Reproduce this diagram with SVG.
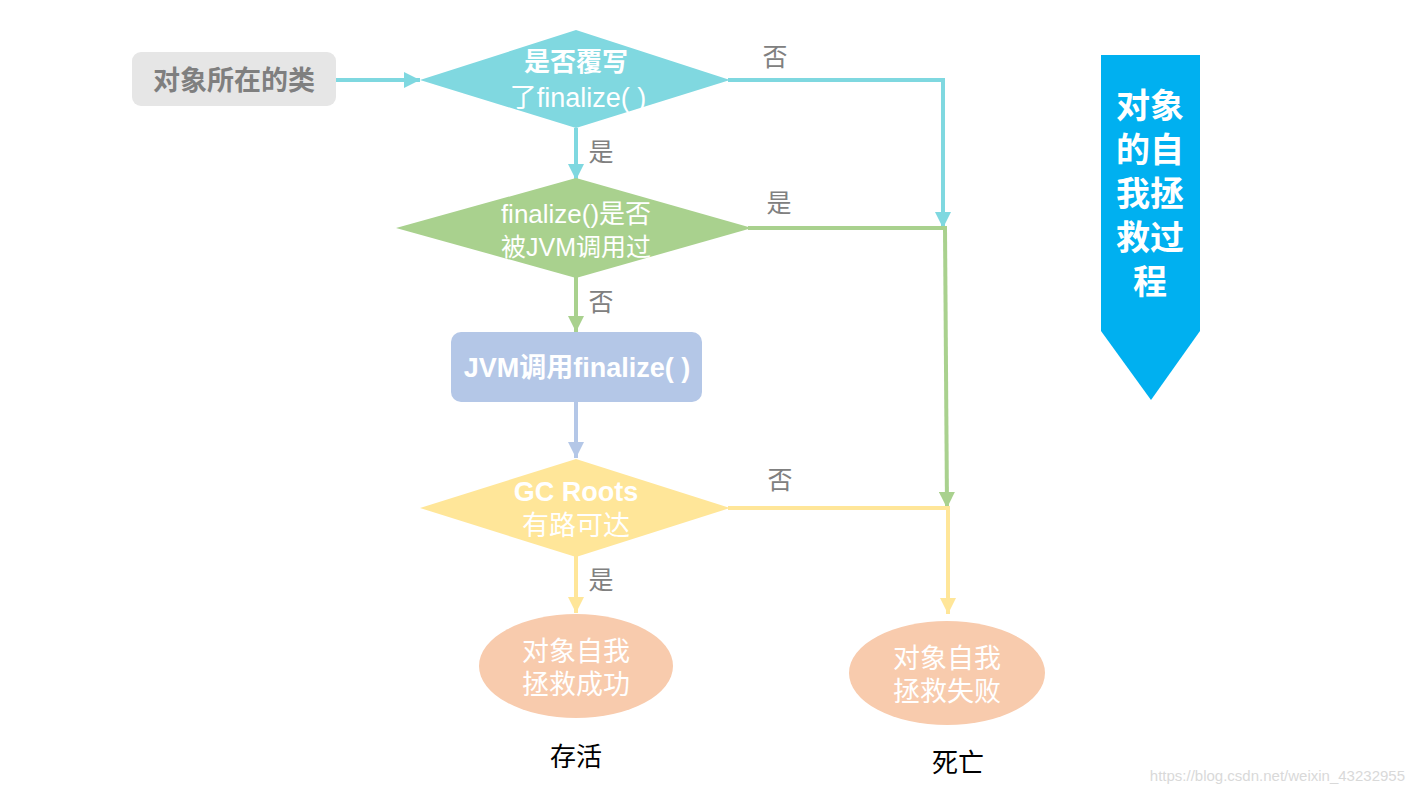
<svg xmlns="http://www.w3.org/2000/svg" width="1414" height="794" viewBox="0 0 1414 794">
<defs>
<style>
text{font-family:"Liberation Sans","Noto Sans CJK SC",sans-serif;text-anchor:middle}
.w{fill:#ffffff;font-size:27px}
.b{font-weight:bold}
.lbl{fill:#808080;font-size:25px}
.line{fill:none;stroke-width:4}
</style>
<marker id="mc" viewBox="0 0 10 10" refX="10" refY="5" markerWidth="4" markerHeight="4" orient="auto"><path d="M0,0L10,5L0,10z" fill="#7fd8e0"/></marker>
<marker id="mg" viewBox="0 0 10 10" refX="10" refY="5" markerWidth="4" markerHeight="4" orient="auto"><path d="M0,0L10,5L0,10z" fill="#a9d18e"/></marker>
<marker id="mb" viewBox="0 0 10 10" refX="10" refY="5" markerWidth="4" markerHeight="4" orient="auto"><path d="M0,0L10,5L0,10z" fill="#b4c7e7"/></marker>
<marker id="my" viewBox="0 0 10 10" refX="10" refY="5" markerWidth="4" markerHeight="4" orient="auto"><path d="M0,0L10,5L0,10z" fill="#ffe699"/></marker>
</defs>
<rect width="1414" height="794" fill="#ffffff"/>
<g id="connectors">
<path class="line" stroke="#7fd8e0" d="M336,80H420" marker-end="url(#mc)"/>
<path class="line" stroke="#7fd8e0" d="M576,128V180" marker-end="url(#mc)"/>
<path class="line" stroke="#7fd8e0" d="M728,80H943V228" marker-end="url(#mc)"/>
<path class="line" stroke="#a9d18e" d="M576,276V332" marker-end="url(#mg)"/>
<path class="line" stroke="#a9d18e" d="M748,228H947" />
<path class="line" stroke="#a9d18e" d="M945,228L947,508" marker-end="url(#mg)"/>
<path class="line" stroke="#b4c7e7" d="M576,402V458" marker-end="url(#mb)"/>
<path class="line" stroke="#ffe699" d="M576,556V613" marker-end="url(#my)"/>
<path class="line" stroke="#ffe699" d="M728,508H948V614" marker-end="url(#my)"/>
<text class="lbl" x="601" y="161">是</text>
<text class="lbl" x="601" y="311">否</text>
<text class="lbl" x="601" y="589">是</text>
<text class="lbl" x="775" y="66">否</text>
<text class="lbl" x="779" y="212">是</text>
<text class="lbl" x="780" y="489">否</text>
</g>
<g id="n-class">
<rect x="132" y="52" width="204" height="54" rx="9" fill="#e6e6e6"/>
<text x="234" y="90" fill="#7f7f7f" font-size="27" font-weight="bold">对象所在的类</text>
</g>
<g id="n-override">
<polygon points="420,80 576,30 730,80 576,128" fill="#80d8e0"/>
<text class="w b" x="576" y="71" style="font-size:26px">是否覆写</text>
<text class="w" x="578" y="107">了finalize( )</text>
</g>
<g id="n-called">
<polygon points="396,228 576,178 752,228 576,278" fill="#a9d18e"/>
<text class="w" x="576" y="223" style="font-size:26px">finalize()是否</text>
<text class="w" x="576" y="256" style="font-size:25px">被JVM调用过</text>
</g>
<g id="n-jvm">
<rect x="451" y="332" width="251" height="70" rx="10" fill="#b4c7e7"/>
<text class="w b" x="577" y="377">JVM调用finalize( )</text>
</g>
<g id="n-gc">
<polygon points="420,508 576,459 730,508 576,557" fill="#ffe699"/>
<text class="w b" x="576" y="501">GC Roots</text>
<text class="w" x="576" y="535">有路可达</text>
</g>
<g id="n-success">
<ellipse cx="576" cy="666" rx="97" ry="52" fill="#f8cbad"/>
<text class="w" x="576" y="661">对象自我</text>
<text class="w" x="576" y="694">拯救成功</text>
</g>
<g id="n-fail">
<ellipse cx="947" cy="673" rx="98" ry="52" fill="#f8cbad"/>
<text class="w" x="947" y="668">对象自我</text>
<text class="w" x="947" y="701">拯救失败</text>
</g>
<g id="t-live"><text x="576" y="766" font-size="26" fill="#000000">存活</text></g>
<g id="t-dead"><text x="958" y="772" font-size="26" fill="#000000">死亡</text></g>
<g id="banner">
<polygon points="1101,55 1200,55 1200,331 1151,400 1101,331" fill="#00b0f0"/>
<text class="b" fill="#ffffff" font-size="34" x="1150" y="118">对象</text>
<text class="b" fill="#ffffff" font-size="34" x="1150" y="162">的自</text>
<text class="b" fill="#ffffff" font-size="34" x="1150" y="206">我拯</text>
<text class="b" fill="#ffffff" font-size="34" x="1150" y="250">救过</text>
<text class="b" fill="#ffffff" font-size="34" x="1150" y="294">程</text>
</g>
<text x="1405" y="781" font-size="15" fill="#d9d9d9" style="text-anchor:end">https://blog.csdn.net/weixin_43232955</text>
</svg>
